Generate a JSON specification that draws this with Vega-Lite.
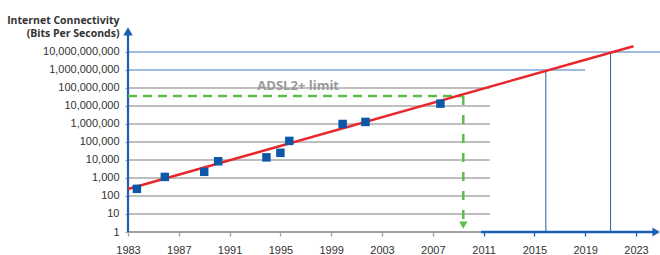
{
  "$schema": "https://vega.github.io/schema/vega-lite/v6.json",
  "width": 532,
  "height": 204,
  "autosize": "none",
  "padding": {"left": 128, "top": 28, "right": 0, "bottom": 23},
  "config": {"view": {"stroke": null}, "font": "Liberation Sans"},
  "datasets": {
    "grayGrid": [
      {"value": 1, "from": 1983, "to": 2011.5},
      {"value": 10, "from": 1983, "to": 2011.5},
      {"value": 100, "from": 1983, "to": 2011.5},
      {"value": 1000, "from": 1983, "to": 2011.5},
      {"value": 10000, "from": 1983, "to": 2011.5},
      {"value": 100000, "from": 1983, "to": 2011.5},
      {"value": 1000000, "from": 1983, "to": 2011.5},
      {"value": 10000000, "from": 1983, "to": 2011.5},
      {"value": 100000000, "from": 1983, "to": 2011.5}
    ],
    "blueGrid": [
      {"value": 1000000000, "from": 1983, "to": 2019.0},
      {"value": 10000000000, "from": 1983, "to": 2024.9}
    ],
    "blueDrops": [
      {"year": 2015.9, "top": 1000000000, "bottom": 1},
      {"year": 2021.0, "top": 10000000000, "bottom": 1}
    ],
    "yAxisLine": [{"year": 1983, "bottom": 1, "top": 130000000000}],
    "yArrow": [{"year": 1983, "value": 140000000000}],
    "xAxisGray": [{"from": 1983, "to": 2011, "value": 1}],
    "xAxisBlue": [{"from": 2010.8, "to": 2024.4, "value": 1}],
    "xArrow": [{"year": 2024.6, "value": 1}],
    "greenH": [{"from": 1983, "to": 2009.4, "value": 36000000}],
    "greenV": [{"year": 2009.4, "top": 36000000, "bottom": 4.5}],
    "greenArrow": [{"year": 2009.4, "value": 2.4}],
    "trend": [
      {"year": 1983, "bps": 245},
      {"year": 2022.8, "bps": 21000000000}
    ],
    "points": [
      {"year": 1983.7, "bps": 250},
      {"year": 1985.9, "bps": 1150},
      {"year": 1989.0, "bps": 2200},
      {"year": 1990.1, "bps": 8500},
      {"year": 1993.9, "bps": 14000},
      {"year": 1995.0, "bps": 25000},
      {"year": 1995.7, "bps": 115000},
      {"year": 1999.9, "bps": 1000000},
      {"year": 2001.7, "bps": 1300000},
      {"year": 2007.6, "bps": 13500000}
    ],
    "label": [{"year": 1996.4, "value": 130000000, "text": "ADSL2+ limit"}]
  },
  "resolve": {"scale": {"x": "shared", "y": "shared"}},
  "layer": [
    {
      "data": {"name": "grayGrid"},
      "mark": {"type": "rule", "color": "#a8a8a8", "strokeWidth": 1.3},
      "encoding": {
        "x": {
          "field": "from", "type": "quantitative",
          "scale": {"domain": [1983, 2024.89], "nice": false, "zero": false},
          "axis": {
            "title": null, "grid": false, "domain": false,
            "values": [1983,1984,1985,1986,1987,1988,1989,1990,1991,1992,1993,1994,1995,1996,1997,1998,1999,2000,2001,2002,2003,2004,2005,2006,2007,2008,2009,2010,2011,2012,2013,2014,2015,2016,2017,2018,2019,2020,2021,2022,2023,2024],
            "labelExpr": "(datum.value - 1983) % 4 == 0 ? format(datum.value, 'd') : ''",
            "tickSize": {"condition": {"test": "(datum.value - 1983) % 4 == 0", "value": 4}, "value": 2.5},
            "tickWidth": 1.3,
            "tickColor": {"condition": {"test": "datum.value > 2010", "value": "#1a5fb4"}, "value": "#a0a0a0"},
            "labelFontSize": 11, "labelColor": "#333333", "labelPadding": 8,
            "labelFlush": false, "labelOverlap": false
          }
        },
        "x2": {"field": "to"},
        "y": {
          "field": "value", "type": "quantitative",
          "scale": {"type": "log", "domain": [1, 215000000000], "nice": false},
          "axis": {
            "title": ["Internet Connectivity", "(Bits Per Seconds)"],
            "titleAngle": 0, "titleAlign": "right", "titleBaseline": "alphabetic",
            "titleX": -9, "titleY": -5, "titleLineHeight": 13,
            "titleFont": "Open Sans", "titleFontSize": 10.5, "titleFontWeight": "bold", "titleColor": "#333333",
            "grid": false, "domain": false,
            "values": [1,10,100,1000,10000,100000,1000000,10000000,100000000,1000000000,10000000000],
            "format": ",", "tickSize": 3, "tickColor": "#a0a0a0", "tickWidth": 1.3,
            "labelFontSize": 11, "labelColor": "#333333", "labelPadding": 6
          }
        }
      }
    },
    {
      "data": {"name": "blueGrid"},
      "mark": {"type": "rule", "color": "#7fa5d5", "strokeWidth": 1.6},
      "encoding": {
        "x": {"field": "from", "type": "quantitative"},
        "x2": {"field": "to"},
        "y": {"field": "value", "type": "quantitative"}
      }
    },
    {
      "data": {"name": "blueDrops"},
      "mark": {"type": "rule", "color": "#2a5fa5", "strokeWidth": 1},
      "encoding": {
        "x": {"field": "year", "type": "quantitative"},
        "y": {"field": "top", "type": "quantitative"},
        "y2": {"field": "bottom"}
      }
    },
    {
      "data": {"name": "xAxisGray"},
      "mark": {"type": "rule", "color": "#a0a0a0", "strokeWidth": 2},
      "encoding": {
        "x": {"field": "from", "type": "quantitative"},
        "x2": {"field": "to"},
        "y": {"field": "value", "type": "quantitative"}
      }
    },
    {
      "data": {"name": "xAxisBlue"},
      "mark": {"type": "rule", "color": "#1a5fb4", "strokeWidth": 2.5},
      "encoding": {
        "x": {"field": "from", "type": "quantitative"},
        "x2": {"field": "to"},
        "y": {"field": "value", "type": "quantitative"}
      }
    },
    {
      "data": {"name": "yAxisLine"},
      "mark": {"type": "rule", "color": "#1a5fb4", "strokeWidth": 2.2},
      "encoding": {
        "x": {"field": "year", "type": "quantitative"},
        "y": {"field": "bottom", "type": "quantitative"},
        "y2": {"field": "top"}
      }
    },
    {
      "data": {"name": "yArrow"},
      "mark": {"type": "point", "shape": "triangle-up", "filled": true, "color": "#1a5fb4", "size": 90, "opacity": 1},
      "encoding": {
        "x": {"field": "year", "type": "quantitative"},
        "y": {"field": "value", "type": "quantitative"}
      }
    },
    {
      "data": {"name": "xArrow"},
      "mark": {"type": "point", "shape": "triangle-right", "filled": true, "color": "#1a5fb4", "size": 80, "opacity": 1},
      "encoding": {
        "x": {"field": "year", "type": "quantitative"},
        "y": {"field": "value", "type": "quantitative"}
      }
    },
    {
      "data": {"name": "greenH"},
      "mark": {"type": "rule", "color": "#5cbd4b", "strokeWidth": 2.5, "strokeDash": [9, 6]},
      "encoding": {
        "x": {"field": "from", "type": "quantitative"},
        "x2": {"field": "to"},
        "y": {"field": "value", "type": "quantitative"}
      }
    },
    {
      "data": {"name": "greenV"},
      "mark": {"type": "rule", "color": "#5cbd4b", "strokeWidth": 2.5, "strokeDash": [9, 10]},
      "encoding": {
        "x": {"field": "year", "type": "quantitative"},
        "y": {"field": "top", "type": "quantitative"},
        "y2": {"field": "bottom"}
      }
    },
    {
      "data": {"name": "greenArrow"},
      "mark": {"type": "point", "shape": "triangle-down", "filled": true, "color": "#5cbd4b", "size": 70, "opacity": 1},
      "encoding": {
        "x": {"field": "year", "type": "quantitative"},
        "y": {"field": "value", "type": "quantitative"}
      }
    },
    {
      "data": {"name": "trend"},
      "mark": {"type": "line", "color": "#e8262b", "strokeWidth": 2.5},
      "encoding": {
        "x": {"field": "year", "type": "quantitative"},
        "y": {"field": "bps", "type": "quantitative"}
      }
    },
    {
      "data": {"name": "points"},
      "mark": {"type": "point", "shape": "square", "filled": true, "color": "#0d57a8", "size": 72, "opacity": 1},
      "encoding": {
        "x": {"field": "year", "type": "quantitative"},
        "y": {"field": "bps", "type": "quantitative"}
      }
    },
    {
      "data": {"name": "label"},
      "mark": {"type": "text", "font": "Open Sans", "fontSize": 13, "fontWeight": "bold", "color": "#9a9a9a", "align": "center", "baseline": "middle"},
      "encoding": {
        "x": {"field": "year", "type": "quantitative"},
        "y": {"field": "value", "type": "quantitative"},
        "text": {"field": "text"}
      }
    }
  ]
}
